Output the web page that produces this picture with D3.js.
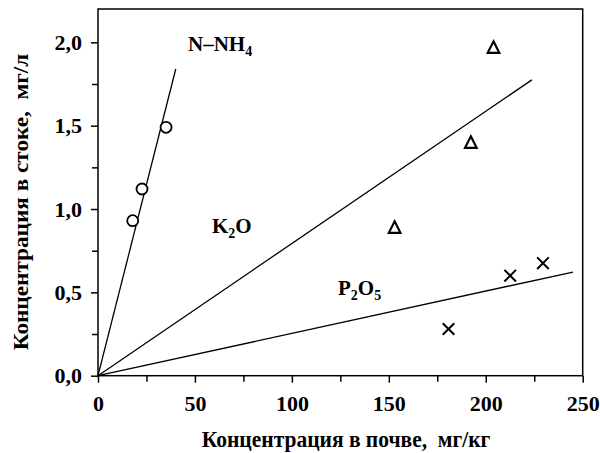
<!DOCTYPE html>
<html>
<head>
<meta charset="utf-8">
<script src="https://cdn.jsdelivr.net/npm/d3@7"></script>
<style>
  html, body { margin: 0; padding: 0; background: #fff; }
  svg { display: block; }
  text { font-family: "Liberation Serif", "Times New Roman", serif; font-weight: bold; fill: #000; white-space: pre; }
</style>
</head>
<body>
<svg id="chart" width="600" height="453"></svg>
<script>
// Soil vs runoff concentrations of nutrients
const nnh4Soil = [17.9, 22.7, 35.1];
const nnh4Runoff = [0.93, 1.12, 1.49];
const k2oSoil = [153, 192.3, 204];
const k2oRunoff = [0.89, 1.40, 1.97];
const p2o5Soil = [180.8, 212.6, 229.5];
const p2o5Runoff = [0.28, 0.60, 0.675];

// Regression lines through origin: [x0, y0, x1, y1]
const nnh4Fit = [0, 0, 40.1, 1.84];
const k2oFit = [0, 0, 223.8, 1.775];
const p2o5Fit = [0, 0, 245, 0.622];

const xTicks = [0, 50, 100, 150, 200, 250];
const yTicks = [0, 0.5, 1.0, 1.5, 2.0];

const svg = d3.select("#chart");
const plotLeft = 98, plotRight = 582.7, plotTop = 9, plotBottom = 375.7;

const x = d3.scaleLinear().domain([0, 250]).range([plotLeft, plotRight]);
const y = d3.scaleLinear().domain([0, 2.2]).range([plotBottom, plotTop]);

const fmt = d => d3.format(".1f")(d).replace(".", ",");

// Frame
svg.append("rect")
  .attr("x", plotLeft).attr("y", plotTop)
  .attr("width", plotRight - plotLeft).attr("height", plotBottom - plotTop)
  .attr("fill", "none").attr("stroke", "#000").attr("stroke-width", 1.5);

// X axis (major + minor ticks)
svg.append("g").attr("transform", `translate(0,${plotBottom})`)
  .call(d3.axisBottom(x).tickValues(xTicks).tickSize(7).tickPadding(13).tickFormat(d3.format("d")));
svg.append("g").attr("transform", `translate(0,${plotBottom})`)
  .call(d3.axisBottom(x).tickValues(d3.range(25, 250, 50)).tickSize(6).tickFormat(""));

// Y axis (major + minor ticks)
svg.append("g").attr("transform", `translate(${plotLeft},0)`)
  .call(d3.axisLeft(y).tickValues(yTicks).tickSize(7).tickPadding(9).tickFormat(fmt));
svg.append("g").attr("transform", `translate(${plotLeft},0)`)
  .call(d3.axisLeft(y).tickValues([0.25, 0.75, 1.25, 1.75]).tickSize(6).tickFormat(""));

svg.selectAll(".domain").remove();
svg.selectAll(".tick line").attr("stroke", "#000").attr("stroke-width", 1.5);
svg.selectAll("g").attr("font-size", null).attr("font-family", null);
svg.selectAll(".tick text")
  .style("font-family", "'Liberation Serif', serif")
  .style("font-weight", "bold").style("font-size", "22px").attr("fill", "#000");

// Axis titles
svg.append("text")
  .attr("transform", "translate(346,447) scale(1,1.08)")
  .attr("text-anchor", "middle").style("font-size", "21.5px")
  .text("Концентрация в почве,  мг/кг");
svg.append("text")
  .attr("transform", "translate(28,202) rotate(-90) scale(1.08,1)")
  .attr("text-anchor", "middle").style("font-size", "21.5px")
  .text("Концентрация в стоке,  мг/л");

// Fit lines
[nnh4Fit, k2oFit, p2o5Fit].forEach(f => {
  svg.append("line")
    .attr("x1", x(f[0])).attr("y1", y(f[1]))
    .attr("x2", x(f[2])).attr("y2", y(f[3]))
    .attr("stroke", "#000").attr("stroke-width", 1.3);
});

// N-NH4: open circles
svg.append("g").selectAll("circle")
  .data(d3.zip(nnh4Soil, nnh4Runoff)).join("circle")
  .attr("cx", d => x(d[0])).attr("cy", d => y(d[1])).attr("r", 5.5)
  .attr("fill", "#fff").attr("stroke", "#000").attr("stroke-width", 1.8);

// K2O: open triangles
svg.append("g").selectAll("path")
  .data(d3.zip(k2oSoil, k2oRunoff)).join("path")
  .attr("transform", d => `translate(${x(d[0])},${y(d[1])})`)
  .attr("d", "M0,-6 L5.8,5.5 L-5.8,5.5 Z")
  .attr("fill", "none").attr("stroke", "#000").attr("stroke-width", 2.2).attr("stroke-linejoin", "miter");

// P2O5: crosses
svg.append("g").selectAll("path")
  .data(d3.zip(p2o5Soil, p2o5Runoff)).join("path")
  .attr("transform", d => `translate(${x(d[0])},${y(d[1])})`)
  .attr("d", "M-5.8,-5.8 L5.8,5.8 M-5.8,5.8 L5.8,-5.8")
  .attr("fill", "none").attr("stroke", "#000").attr("stroke-width", 2);

// Series labels with subscripts
function label(px, py, parts) {
  const t = svg.append("text").attr("x", px).attr("y", py).style("font-size", "21px");
  parts.forEach(p => {
    const s = t.append("tspan").text(p[0]);
    if (p[1]) s.style("font-size", "14px").attr("dy", 5);
    else if (p[2]) s.attr("dy", -5);
  });
}
label(188, 51, [["N–NH"], ["4", true]]);
label(212, 233, [["K"], ["2", true], ["O", false, true]]);
label(338, 295, [["P"], ["2", true], ["O", false, true], ["5", true]]);
</script>
</body>
</html>
